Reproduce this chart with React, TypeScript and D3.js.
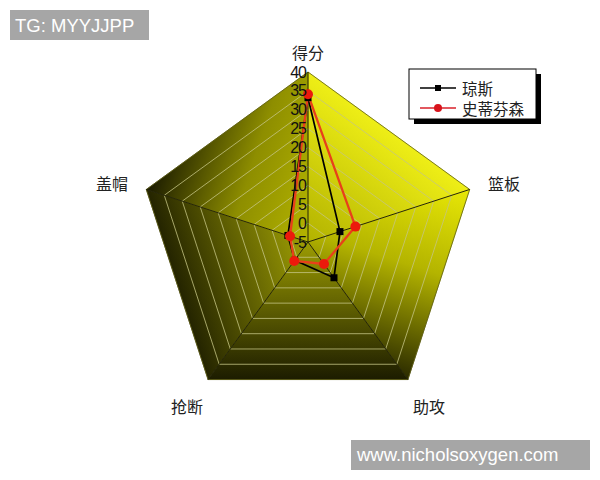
import React, { useEffect, useRef } from 'react';
import * as d3 from 'd3';

const categories = ['得分', '篮板', '助攻', '抢断', '盖帽'];
const seriesNames = ['琼斯', '史蒂芬森'];
const jones = [33.2, 3.9, 6.7, 1.0, 0.6];
const stephenson = [34.1, 8.2, 2.2, 1.2, 0.0];
const tickValues = [-5, 0, 5, 10, 15, 20, 25, 30, 35, 40];

const W = 600;
const H = 480;
const cx = 308;
const cy = 242;
const R = 170;

const App: React.FC = () => {
  const svgRef = useRef<SVGSVGElement>(null);

  useEffect(() => {
    if (!svgRef.current) return;
    const svg = d3.select(svgRef.current);
    svg.selectAll('*').remove();

    const r = d3.scaleLinear().domain([-5, 40]).range([0, R]);
    const angle = d3.scalePoint<number>()
      .domain(d3.range(categories.length + 1))
      .range([0, Math.PI * 2]);
    const a = (i: number) => angle(i % categories.length) as number;

    const pt = (i: number, v: number) => {
      const [x, y] = d3.pointRadial(a(i), r(v));
      return [cx + x, cy + y] as [number, number];
    };

    const defs = svg.append('defs');
    const g = svg.append('g');

    // sector shading: each triangle gets its own gradient (fake 3d look)
    const vtx = (i: number) => pt(i, 40);
    const mid = (i: number) => {
      const p = vtx(i), q = vtx(i + 1);
      return [(p[0] + q[0]) / 2, (p[1] + q[1]) / 2] as [number, number];
    };
    const C: [number, number] = [cx, cy];
    const shades: { from: [number, number]; to: [number, number]; stops: [number, string][] }[] = [
      { from: C, to: mid(0), stops: [[0, '#b2b200'], [1, '#eeee16']] },
      { from: vtx(1), to: vtx(2), stops: [[0, '#e8e806'], [0.45, '#b4b400'], [1, '#2a2a00']] },
      { from: C, to: mid(2), stops: [[0, '#9c9c02'], [1, '#1c1c00']] },
      { from: C, to: mid(3), stops: [[0, '#a0a004'], [1, '#242400']] },
      { from: vtx(4), to: C, stops: [[0, '#1a1a00'], [0.55, '#8e8e00'], [1, '#b4b400']] },
    ];

    shades.forEach((s, i) => {
      const grad = defs.append('linearGradient')
        .attr('id', `sec${i}`)
        .attr('gradientUnits', 'userSpaceOnUse')
        .attr('x1', s.from[0]).attr('y1', s.from[1])
        .attr('x2', s.to[0]).attr('y2', s.to[1]);
      s.stops.forEach(([o, c]) => grad.append('stop').attr('offset', o).attr('stop-color', c));

      const p = vtx(i), q = vtx(i + 1);
      g.append('path')
        .attr('d', `M${cx},${cy}L${p[0]},${p[1]}L${q[0]},${q[1]}Z`)
        .attr('fill', `url(#sec${i})`)
        .attr('stroke', `url(#sec${i})`)
        .attr('stroke-width', 0.6);
    });

    // concentric grid pentagons
    const ring = d3.lineRadial<number>()
      .angle((_, i) => a(i))
      .radius(d => r(d))
      .curve(d3.curveLinearClosed);

    tickValues.slice(1, -1).forEach(t => {
      g.append('path')
        .attr('transform', `translate(${cx},${cy})`)
        .attr('d', ring(categories.map(() => t)))
        .attr('fill', 'none')
        .attr('stroke', '#c4c484')
        .attr('stroke-width', 0.8);
    });

    g.append('path')
      .attr('transform', `translate(${cx},${cy})`)
      .attr('d', ring(categories.map(() => 40)))
      .attr('fill', 'none')
      .attr('stroke', '#5a5a10')
      .attr('stroke-width', 0.8);

    // spokes
    categories.forEach((_, i) => {
      const [x, y] = vtx(i);
      g.append('line')
        .attr('x1', cx).attr('y1', cy)
        .attr('x2', x).attr('y2', y)
        .attr('stroke', '#262608')
        .attr('stroke-width', 1);
    });

    // series
    const series = [
      { name: seriesNames[0], values: jones, line: '#000000', marker: '#000000', shape: 'square', width: 1.7 },
      { name: seriesNames[1], values: stephenson, line: '#e8401a', marker: '#ec1a0c', shape: 'circle', width: 2.3 },
    ];

    series.forEach(s => {
      g.append('path')
        .attr('transform', `translate(${cx},${cy})`)
        .attr('d', ring(s.values))
        .attr('fill', 'none')
        .attr('stroke', s.line)
        .attr('stroke-width', s.width)
        .attr('stroke-linejoin', 'round');
    });

    series.forEach(s => {
      s.values.forEach((v, i) => {
        const [x, y] = pt(i, v);
        if (s.shape === 'square') {
          g.append('rect')
            .attr('x', x - 3.5).attr('y', y - 3.5)
            .attr('width', 7).attr('height', 7)
            .attr('fill', s.marker);
        } else {
          g.append('circle')
            .attr('cx', x).attr('cy', y).attr('r', 5)
            .attr('fill', s.marker);
        }
      });
    });

    // radial tick labels on the top spoke
    tickValues.forEach(t => {
      const [, y] = pt(0, t);
      g.append('text')
        .attr('x', cx - 2)
        .attr('y', y)
        .attr('text-anchor', 'end')
        .attr('dominant-baseline', 'central')
        .attr('font-family', 'Liberation Sans, Arial, sans-serif')
        .attr('font-size', 16)
        .attr('letter-spacing', -1)
        .attr('fill', '#111')
        .text(t);
    });

    // category labels
    categories.forEach((c, i) => {
      const rr = i === 0 ? R + 20 : R + 36;
      const [x, y] = d3.pointRadial(a(i), rr);
      const dy = i === 1 || i === 4 ? 5 : i === 0 ? 0 : -3;
      g.append('text')
        .attr('x', cx + x)
        .attr('y', cy + y + dy)
        .attr('text-anchor', 'middle')
        .attr('dominant-baseline', 'central')
        .attr('font-family', 'Noto Sans CJK SC, sans-serif')
        .attr('font-size', 16)
        .attr('fill', '#222')
        .text(c);
    });

    // legend
    const lg = svg.append('g').attr('transform', 'translate(409,69)');
    lg.append('rect').attr('x', 5).attr('y', 5).attr('width', 127).attr('height', 50).attr('fill', '#000');
    lg.append('rect').attr('x', 0).attr('y', 0).attr('width', 127).attr('height', 50)
      .attr('fill', '#fff').attr('stroke', '#000').attr('stroke-width', 1);
    series.forEach((s, i) => {
      const y = 19 + i * 20;
      lg.append('line').attr('x1', 11).attr('x2', 47).attr('y1', y).attr('y2', y)
        .attr('stroke', i === 0 ? '#000' : '#d8202a').attr('stroke-width', 1.5);
      if (s.shape === 'square') {
        lg.append('rect').attr('x', 26).attr('y', y - 3).attr('width', 6).attr('height', 6).attr('fill', '#000');
      } else {
        lg.append('circle').attr('cx', 29).attr('cy', y).attr('r', 4).attr('fill', '#d8141c');
      }
      lg.append('text')
        .attr('x', 53).attr('y', y)
        .attr('dominant-baseline', 'central')
        .attr('font-family', 'Noto Sans CJK SC, sans-serif')
        .attr('font-size', 15.5)
        .attr('fill', '#222')
        .text(s.name);
    });

    // watermarks
    svg.append('rect').attr('x', 10).attr('y', 10).attr('width', 139).attr('height', 30).attr('fill', '#a6a6a6');
    svg.append('text').attr('x', 15).attr('y', 32)
      .attr('font-family', 'Liberation Sans, Arial, sans-serif').attr('font-size', 18.5)
      .attr('fill', '#fff').text('TG: MYYJJPP');
    svg.append('rect').attr('x', 351).attr('y', 440).attr('width', 239).attr('height', 30).attr('fill', '#a6a6a6');
    svg.append('text').attr('x', 357).attr('y', 461)
      .attr('font-family', 'Liberation Sans, Arial, sans-serif').attr('font-size', 18.5)
      .attr('fill', '#fff').text('www.nicholsoxygen.com');
  }, []);

  return (
    <svg
      ref={svgRef}
      width={W}
      height={H}
      style={{ position: 'absolute', left: 0, top: 0, background: '#fff', display: 'block' }}
    />
  );
};

export default App;
